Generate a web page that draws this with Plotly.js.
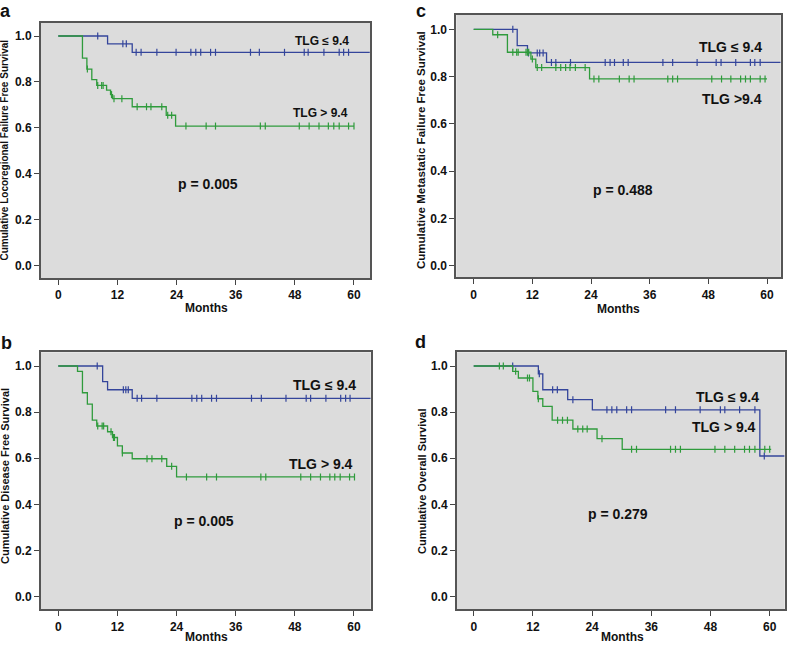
<!DOCTYPE html>
<html>
<head>
<meta charset="utf-8">
<script src="https://cdn.plot.ly/plotly-3.0.1.min.js"></script>
<style>
  html, body { margin: 0; padding: 0; background: #fff; }
  #myGraph { width: 787px; height: 645px; }
</style>
</head>
<body>
<div id="myGraph"></div>
<script>
// 刻度
let monthTicks = [0, 12, 24, 36, 48, 60];
let survTicks = [0, 0.2, 0.4, 0.6, 0.8, 1.0];

/* ===== a : Locoregional failure free survival ===== */
let aBlueTime = [0, 10, 15];
let aBlueSurv = [1, 0.966, 0.929];
let aBlueEnd = 63.2;
let aBlueCens = [8.0, 13.1, 13.8, 15.8, 16.8, 20.0, 23.9, 26.9, 27.9, 28.9, 30.9, 31.9, 39.0, 40.8, 45.9, 49.9, 50.7, 53.9, 57.0, 57.9, 58.9];
let aGreenTime = [0, 4.9, 5.8, 6.8, 7.8, 9.8, 10.6, 11.0, 15.0, 21.9, 23.8];
let aGreenSurv = [1, 0.904, 0.856, 0.81, 0.785, 0.764, 0.745, 0.727, 0.692, 0.655, 0.608];
let aGreenEnd = 60;
let aGreenCens = [5.9, 8.0, 8.8, 9.1, 10.8, 11.3, 12.9, 16.0, 17.9, 18.8, 21.0, 22.2, 23.0, 25.9, 30.0, 31.9, 41.0, 42.0, 48.9, 50.9, 52.9, 54.8, 55.9, 57.0, 58.9, 60.0];

/* ===== b : Disease free survival ===== */
let bBlueTime = [0, 9.0, 10.0, 15.0];
let bBlueSurv = [1, 0.932, 0.897, 0.86];
let bBlueEnd = 63.4;
let bBlueCens = [7.9, 13.2, 13.7, 14.2, 16.0, 16.9, 20.0, 27.1, 28.1, 29.1, 31.1, 32.1, 39.2, 41.2, 46.2, 50.3, 51.2, 54.3, 57.3, 58.3, 59.2];
let bGreenTime = [0, 3.9, 4.9, 5.9, 6.9, 7.8, 10.0, 11.0, 12.0, 13.0, 15.0, 22.0, 24.0];
let bGreenSurv = [1, 0.977, 0.884, 0.835, 0.765, 0.74, 0.715, 0.69, 0.654, 0.623, 0.598, 0.565, 0.519];
let bGreenEnd = 60;
let bGreenCens = [8.0, 8.9, 9.2, 10.7, 11.2, 11.4, 13.0, 18.0, 19.0, 21.0, 23.0, 26.0, 30.1, 32.1, 41.1, 42.1, 49.2, 51.2, 53.2, 55.1, 56.1, 57.2, 59.1, 60.1];

/* ===== c : Metastatic failure free survival ===== */
let cBlueTime = [0, 8.9, 11.0, 14.9];
let cBlueSurv = [1, 0.931, 0.90, 0.86];
let cBlueEnd = 62.8;
let cBlueCens = [8.0, 11.2, 13.0, 13.5, 14.2, 15.9, 16.8, 19.8, 26.9, 27.9, 28.8, 30.6, 31.6, 38.7, 40.7, 45.7, 49.6, 50.6, 53.6, 56.6, 57.5, 58.6];
let cGreenTime = [0, 3.9, 6.9, 11.7, 12.7, 23.7];
let cGreenSurv = [1, 0.977, 0.903, 0.874, 0.838, 0.79];
let cGreenEnd = 60;
let cGreenCens = [4.9, 8.0, 8.8, 9.1, 10.7, 11.0, 11.25, 12.0, 13.0, 13.9, 16.8, 17.8, 18.8, 19.7, 20.8, 22.8, 24.6, 25.6, 29.8, 31.8, 32.8, 39.7, 40.7, 41.7, 48.7, 50.7, 52.6, 54.6, 55.6, 56.6, 58.6, 59.6];

/* ===== d : Overall survival ===== */
let dBlueTime = [0, 13.1, 14.0, 19.05, 24.05, 58.0];
let dBlueSurv = [1, 0.966, 0.897, 0.854, 0.81, 0.61];
let dBlueEnd = 63;
let dBlueCens = [7.9, 13.3, 16.0, 16.95, 20.1, 27.0, 28.0, 29.0, 31.0, 32.0, 38.9, 40.9, 45.9, 50.0, 50.9, 53.9, 57.0, 58.9];
let dGreenTime = [0, 7.9, 9.05, 12.0, 13.0, 14.0, 15.9, 20.1, 25.0, 30.1];
let dGreenSurv = [1, 0.977, 0.948, 0.89, 0.858, 0.825, 0.765, 0.727, 0.685, 0.639];
let dGreenEnd = 60.3;
let dGreenCens = [5.2, 6.0, 8.5, 10.9, 11.3, 13.1, 17.0, 18.0, 19.0, 21.1, 22.1, 23.0, 26.0, 32.0, 33.0, 39.9, 40.9, 41.9, 48.9, 50.9, 52.9, 54.9, 55.9, 57.0, 59.0, 60.0];

let blue = '#34459b';
let green = '#2f9b3c';
let fontFam = '"Liberation Sans", Arial, sans-serif';

// 在某時間點的存活率 (step function)
function survAt(times, surv, t) {
    let s = surv[0];
    for (let i = 0; i < times.length; i++) {
        if (times[i] <= t) s = surv[i];
    }
    return s;
}

function curve(times, surv, end, cens, color, xa, ya) {
    let line = {
        type: 'scatter', mode: 'lines',
        x: times.concat([end]),
        y: surv.concat([surv[surv.length - 1]]),
        line: { shape: 'hv', color: color, width: 1.3 },
        xaxis: xa, yaxis: ya, hoverinfo: 'skip'
    };
    let marks = {
        type: 'scatter', mode: 'markers',
        x: cens,
        y: cens.map(function (t) { return survAt(times, surv, t); }),
        marker: { symbol: 'line-ns', size: 5, line: { color: color, width: 1.2 } },
        xaxis: xa, yaxis: ya, hoverinfo: 'skip'
    };
    return [line, marks];
}

let data = [];
data = data.concat(curve(aBlueTime, aBlueSurv, aBlueEnd, aBlueCens, blue, 'x', 'y'));
data = data.concat(curve(aGreenTime, aGreenSurv, aGreenEnd, aGreenCens, green, 'x', 'y'));
data = data.concat(curve(cBlueTime, cBlueSurv, cBlueEnd, cBlueCens, blue, 'x2', 'y2'));
data = data.concat(curve(cGreenTime, cGreenSurv, cGreenEnd, cGreenCens, green, 'x2', 'y2'));
data = data.concat(curve(bBlueTime, bBlueSurv, bBlueEnd, bBlueCens, blue, 'x3', 'y3'));
data = data.concat(curve(bGreenTime, bGreenSurv, bGreenEnd, bGreenCens, green, 'x3', 'y3'));
data = data.concat(curve(dBlueTime, dBlueSurv, dBlueEnd, dBlueCens, blue, 'x4', 'y4'));
data = data.concat(curve(dGreenTime, dGreenSurv, dGreenEnd, dGreenCens, green, 'x4', 'y4'));

function xAxis(domain, range, anchor) {
    return {
        domain: domain, range: range, anchor: anchor,
        tickvals: monthTicks, ticks: 'outside', ticklen: 5, tickwidth: 1, tickcolor: '#444',
        showline: true, mirror: true, linecolor: '#555', linewidth: 2,
        showgrid: false, zeroline: false,
        tickfont: { family: fontFam, size: 12, color: '#111', weight: 'bold' }
    };
}
function yAxis(domain, range, anchor) {
    return {
        domain: domain, range: range, anchor: anchor,
        tickvals: survTicks, tickformat: '.1f', ticks: 'outside', ticklen: 5, tickwidth: 1, tickcolor: '#444',
        showline: true, mirror: true, linecolor: '#555', linewidth: 2,
        showgrid: false, zeroline: false,
        tickfont: { family: fontFam, size: 12, color: '#111', weight: 'bold' }
    };
}

// 像素 -> paper 座標
function px(x) { return x / 787; }
function py(y) { return 1 - y / 645; }

function note(text, x, y, xref, yref, size, extra) {
    let a = {
        text: text, x: x, y: y, xref: xref, yref: yref, showarrow: false,
        xanchor: 'center', yanchor: 'middle', borderpad: 0,
        font: { family: fontFam, size: size, color: '#111', weight: 'bold' }
    };
    return Object.assign(a, extra || {});
}

let annotations = [
    // 子圖代號
    note('a', px(5), 1, 'paper', 'paper', 18, { yanchor: 'top' }),
    note('c', px(421), 1, 'paper', 'paper', 18, { yanchor: 'top' }),
    note('b', px(6), py(343), 'paper', 'paper', 18),
    note('d', px(421), py(342), 'paper', 'paper', 18),
    // y 軸標題
    note('Cumulative Locoregional Failure Free Survival', px(4.5), py(150), 'paper', 'paper', 10, { textangle: -90 }),
    note('Cumulative Metastatic Failure Free Survival', px(421), py(150), 'paper', 'paper', 11.5, { textangle: -90 }),
    note('Cumulative Disease Free Survival', px(5), py(476), 'paper', 'paper', 11, { textangle: -90 }),
    note('Cumulative Overall Survival', px(422), py(481), 'paper', 'paper', 11, { textangle: -90 }),
    // x 軸標題
    note('Months', px(206), py(308), 'paper', 'paper', 12),
    note('Months', px(618.5), py(309), 'paper', 'paper', 12),
    note('Months', px(206.5), 0, 'paper', 'paper', 12, { yanchor: 'bottom' }),
    note('Months', px(622), 0, 'paper', 'paper', 12, { yanchor: 'bottom' }),
    // 曲線標籤
    note('TLG \u2264 9.4', 53.6, 0.98, 'x', 'y', 12),
    note('TLG > 9.4', 53.3, 0.664, 'x', 'y', 12),
    note('p = 0.005', 30.3, 0.356, 'x', 'y', 14),
    note('TLG \u2264 9.4', 52.5, 0.926, 'x2', 'y2', 14),
    note('TLG >9.4', 52.8, 0.704, 'x2', 'y2', 14),
    note('p = 0.488', 30.5, 0.32, 'x2', 'y2', 14),
    note('TLG \u2264 9.4', 54.0, 0.916, 'x3', 'y3', 14),
    note('TLG > 9.4', 53.4, 0.575, 'x3', 'y3', 14),
    note('p = 0.005', 29.6, 0.33, 'x3', 'y3', 14),
    note('TLG \u2264 9.4', 51.5, 0.867, 'x4', 'y4', 14),
    note('TLG > 9.4', 50.8, 0.737, 'x4', 'y4', 14),
    note('p = 0.279', 29.3, 0.36, 'x4', 'y4', 14)
];

let layout = {
    width: 787, height: 645,
    margin: { l: 0, r: 0, t: 0, b: 0 },
    paper_bgcolor: '#ffffff',
    plot_bgcolor: '#dcdcdc',
    showlegend: false,
    xaxis: xAxis([px(41), px(370)], [-3.51, 63.25], 'y'),
    yaxis: yAxis([py(278), py(23)], [-0.0535, 1.0566], 'x'),
    xaxis2: xAxis([px(456.3), px(780.7)], [-3.56, 62.8], 'y2'),
    yaxis2: yAxis([py(277.3), py(15)], [-0.049, 1.0605], 'x2'),
    xaxis3: xAxis([px(41), px(370.7)], [-3.51, 63.39], 'y3'),
    yaxis3: yAxis([py(609.3), py(352.3)], [-0.0546, 1.0594], 'x3'),
    xaxis4: xAxis([px(457), px(784.7)], [-3.39, 63.04], 'y4'),
    yaxis4: yAxis([py(609.3), py(352.3)], [-0.0546, 1.0594], 'x4'),
    annotations: annotations
};

Plotly.newPlot('myGraph', data, layout, { displayModeBar: false, staticPlot: true });
</script>
</body>
</html>
